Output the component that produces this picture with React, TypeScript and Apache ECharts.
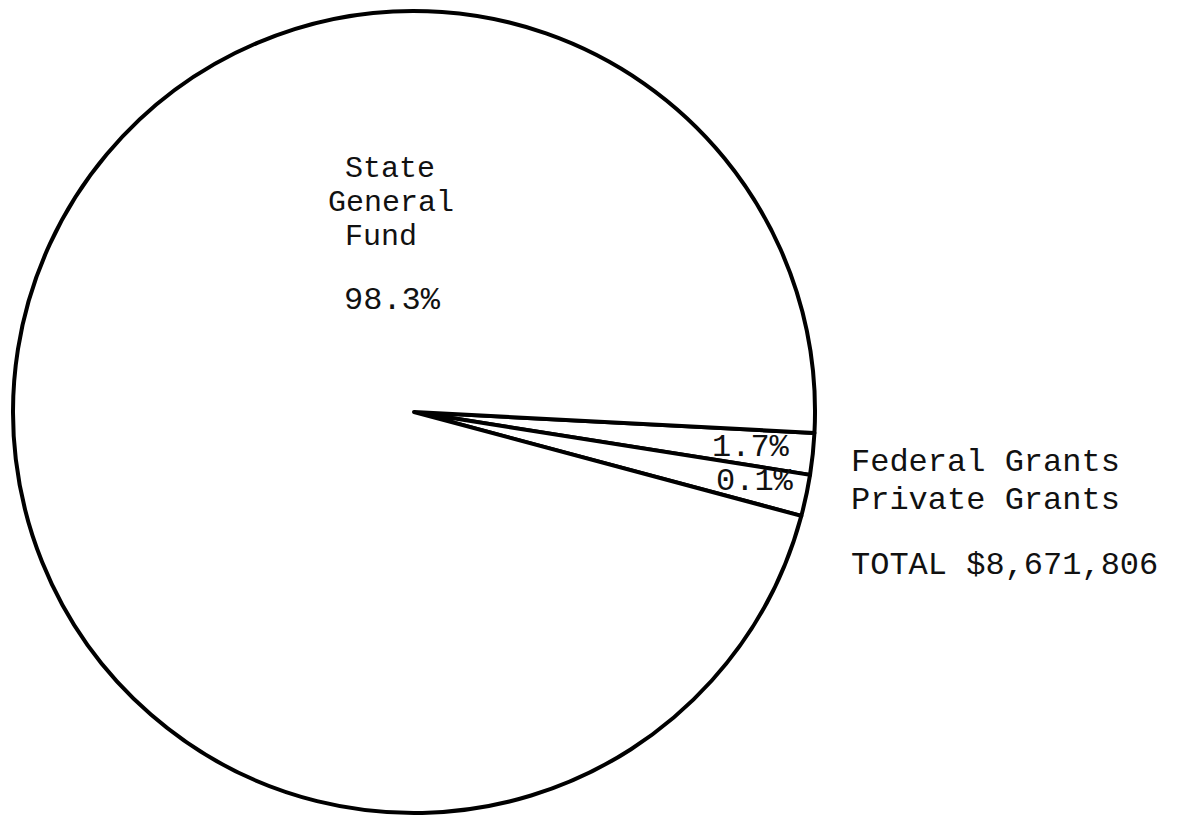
import React, { useEffect, useRef } from "react";
import * as echarts from "echarts";

const categories = ["Federal Grants", "Private Grants", "State General Fund"];
const shares = [1.7, 0.1, 98.3];
const stateLabelLines = ["State", "General", "Fund"];
const totalLabel = "TOTAL $8,671,806";

const FONT = "'Liberation Mono', 'DejaVu Sans Mono', monospace";

export default function App() {
  const ref = useRef<HTMLDivElement>(null);
  useEffect(() => {
    if (!ref.current) return;
    const chart = echarts.init(ref.current, undefined, { renderer: "svg" });
    const txt = (text: string, x: number, y: number, size = 32) => ({
      type: "text",
      x,
      y,
      z: 100,
      silent: true,
      style: {
        text,
        fontFamily: FONT,
        fontSize: size,
        fill: "#111",
        align: "left",
        verticalAlign: "middle",
      },
    });
    const pct = (v: number) => `${v}%`;
    chart.setOption({
      animation: false,
      backgroundColor: "#ffffff",
      series: [
        {
          type: "pie",
          z: 1,
          center: [414, 412],
          radius: 401,
          startAngle: -3,
          minAngle: 6,
          clockwise: true,
          silent: true,
          label: { show: false },
          labelLine: { show: false },
          emphasis: { disabled: true },
          itemStyle: { color: "#ffffff", borderColor: "#000000", borderWidth: 4 },
          data: categories.map((name, i) => ({ name, value: shares[i] })),
        },
      ],
      graphic: {
        elements: [
          txt(stateLabelLines[0], 345, 169, 30),
          txt(stateLabelLines[1], 328, 203, 30),
          txt(stateLabelLines[2], 345, 237, 30),
          txt(pct(shares[2]), 344, 300),
          txt(pct(shares[0]), 712, 447),
          txt(pct(shares[1]), 716, 481),
          txt(categories[0], 851, 462),
          txt(categories[1], 851, 500),
          txt(totalLabel, 851, 565),
        ],
      },
    });
    return () => chart.dispose();
  }, []);
  return (
    <div
      ref={ref}
      style={{ position: "fixed", left: 0, top: 0, width: 1184, height: 818, background: "#fff" }}
    />
  );
}
